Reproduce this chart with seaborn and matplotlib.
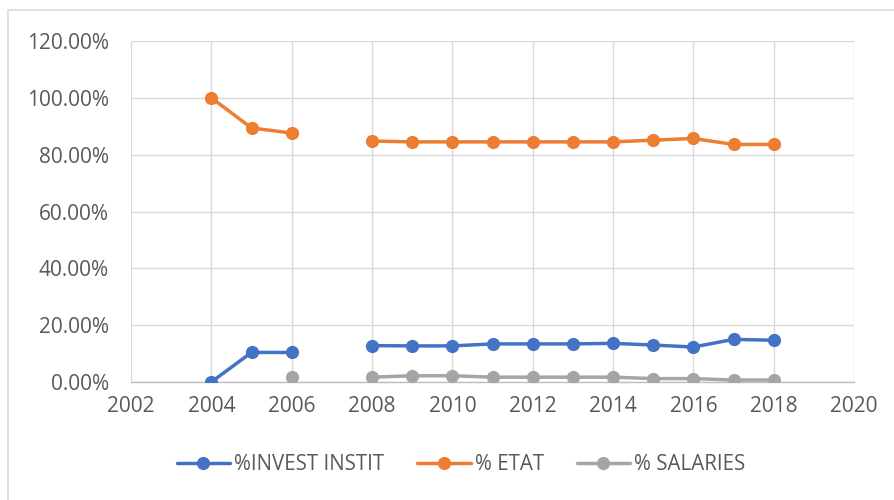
import numpy as np
import pandas as pd
import matplotlib
matplotlib.use("Agg")
import matplotlib.pyplot as plt
from matplotlib.lines import Line2D
from matplotlib.patches import Rectangle
import seaborn as sns

years = list(range(2004, 2019))
invest = [0.0, 10.4, 10.4, np.nan, 12.8, 12.7, 12.7, 13.4, 13.4, 13.4, 13.6, 13.0, 12.3, 15.0, 14.7]
etat = [100.0, 89.4, 87.6, np.nan, 84.8, 84.5, 84.5, 84.5, 84.5, 84.5, 84.5, 85.1, 85.7, 83.6, 83.6]
salaries = [np.nan, np.nan, 1.7, np.nan, 1.7, 2.2, 2.2, 1.7, 1.7, 1.7, 1.7, 1.2, 1.2, 0.7, 0.7]
series_names = ["%INVEST INSTIT", "% ETAT", "% SALARIES"]
colors = ["#4472C4", "#ED7D31", "#A5A5A5"]
x_ticks = list(range(2002, 2021, 2))
y_ticks = [0, 20, 40, 60, 80, 100, 120]

rows = []
for name, vals in zip(series_names, [invest, etat, salaries]):
    seg = 0
    for yr, v in zip(years, vals):
        if np.isnan(v):
            seg += 1
            continue
        rows.append({"year": yr, "value": v / 100.0, "series": name, "seg": f"{name}_{seg}"})
df = pd.DataFrame(rows)

sns.set_theme(style="white")
plt.rcParams['font.family'] = ['Open Sans', 'DejaVu Sans']

fig = plt.figure(figsize=(8.95, 5.0), dpi=100)
ax = fig.add_axes([131/895, 1 - 382/500, (854-131)/895, (382-41)/500])

palette = dict(zip(series_names, colors))
sns.lineplot(data=df, x="year", y="value", hue="series", units="seg", estimator=None,
             palette=palette, marker="o", markersize=9.5, markeredgewidth=0,
             linewidth=2.5, ax=ax, legend=False, zorder=3)

ax.set_xlim(2002, 2020)
ax.set_ylim(0, 1.2)
ax.set_xticks(x_ticks)
ax.set_yticks([t / 100 for t in y_ticks])
ax.set_yticklabels([f"{t:.2f}%" for t in y_ticks])
ax.set_xticklabels([str(t) for t in x_ticks])
ax.grid(True, color="#D9D9D9", linewidth=1)
ax.set_axisbelow(True)
for s in ["top", "right", "left"]:
    ax.spines[s].set_visible(False)
ax.spines["bottom"].set_color("#BFBFBF")
ax.spines["bottom"].set_linewidth(1)
ax.tick_params(axis="both", colors="#595959", labelsize=15, length=0)
ax.tick_params(axis="y", pad=16)
ax.tick_params(axis="x", pad=10)
ax.set_xlabel("")
ax.set_ylabel("")
for lab in ax.get_xticklabels() + ax.get_yticklabels():
    lab.set_color("#595959")

handles = [Line2D([0], [0], color=c, linewidth=2.5, marker="o", markersize=9.5, markeredgewidth=0)
           for c in colors]
fig.legend(handles, series_names, loc="center", bbox_to_anchor=(461/895, 1 - 465/500),
           ncol=3, frameon=False, fontsize=14.8, handlelength=2.6, columnspacing=1.6,
           handletextpad=0.2, labelcolor="#595959")

fig.patches.append(Rectangle((8/895, -0.01), 1.0, 1 - 10/500 + 0.01, transform=fig.transFigure,
                             fill=False, edgecolor="#D9D9D9", linewidth=1.2))

fig.savefig("out.png", dpi=100)
